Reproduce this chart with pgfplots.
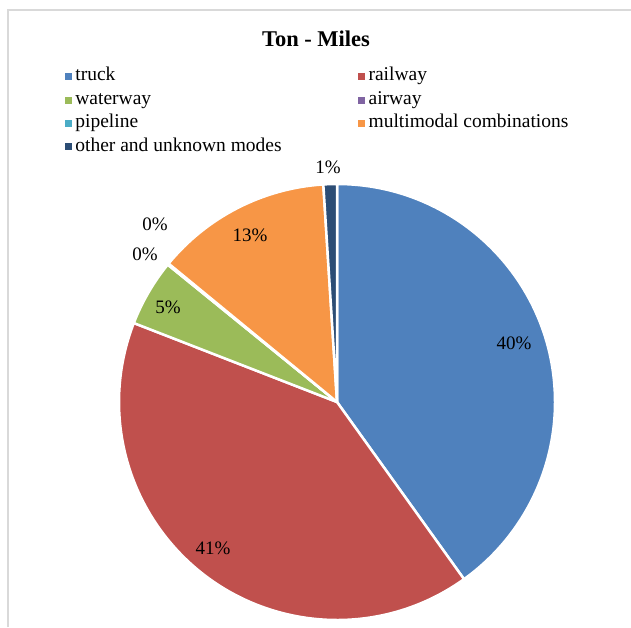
\documentclass[border=0pt]{standalone}
\usepackage{pgfplots}
\usepackage{pgfplotstable}
\pgfplotsset{compat=1.18}
\usepackage{fontspec}
\setmainfont{Liberation Serif}
\definecolor{pc0}{HTML}{4F81BD}
\definecolor{pc1}{HTML}{C0504D}
\definecolor{pc2}{HTML}{9BBB59}
\definecolor{pc3}{HTML}{8064A2}
\definecolor{pc4}{HTML}{4BACC6}
\definecolor{pc5}{HTML}{F79646}
\definecolor{pc6}{HTML}{2C4D75}
\definecolor{framegray}{HTML}{D9D9D9}
\newcommand\labfont{\fontsize{19}{22}\selectfont}
\newcommand\legfont{\fontsize{19.5}{22}\selectfont}
\newcommand\titlefont{\fontsize{22.5}{26}\selectfont\bfseries}
\newcommand\sq[1]{\addlegendimage{legend image code/.code={\fill[#1] (0pt,-3pt) rectangle (6pt,3pt); \path[draw=none,fill=none] (0pt,-1pt) rectangle (10pt,1pt);}}}
% value = share in percent, shown = printed label, labang/labr = label position (deg clockwise from top, radius)
\pgfplotstableread{
mode value shown labang labr
truck 40.1 40 71.6 186.6
railway 40.8 41 220.3 191.6
waterway 4.95 5 299.3 193.9
airway 0.05 0 307.6 242.4
pipeline 0.05 0 314.4 254.6
multimodal 13.05 13 332.5 188.3
other 1.0 1 357.8 235.2
}\piedata
\begin{document}
\begin{tikzpicture}
\def\cx{337}\def\cy{-402}\def\R{218}
\def\cum{0}
\pgfplotsforeachungrouped \i in {0,...,6}{%
  \pgfplotstablegetelem{\i}{value}\of\piedata
  \let\pv\pgfplotsretval
  \pgfmathsetmacro\st{90-3.6*\cum}%
  \pgfmathsetmacro\cum{\cum+\pv}%
  \pgfmathsetmacro\en{90-3.6*\cum}%
  \expandafter\xdef\csname pieS\i\endcsname{\st}%
  \expandafter\xdef\csname pieE\i\endcsname{\en}%
  \pgfplotstablegetelem{\i}{labang}\of\piedata
  \let\la\pgfplotsretval
  \pgfplotstablegetelem{\i}{labr}\of\piedata
  \let\lr\pgfplotsretval
  \pgfmathsetmacro\lx{\cx+\lr*sin(\la)}%
  \pgfmathsetmacro\ly{\cy+\lr*cos(\la)}%
  \expandafter\xdef\csname labX\i\endcsname{\lx}%
  \expandafter\xdef\csname labY\i\endcsname{\ly}%
  \pgfplotstablegetelem{\i}{shown}\of\piedata
  \expandafter\xdef\csname labT\i\endcsname{\pgfplotsretval}%
}
\begin{axis}[
  at={(0pt,0pt)}, anchor=south west,
  width=631pt, height=627pt, scale only axis,
  xmin=0, xmax=631, ymin=-627, ymax=0,
  hide axis, clip=false,
  title={Ton - Miles},
  title style={font=\titlefont, at={(0.5008,0.917)}, anchor=base, inner sep=0pt},
  legend columns=2,
  legend cell align=left,
  legend style={at={(0.1030,0.897)}, anchor=north west, draw=none, fill=none,
    inner sep=0pt, font=\legfont, row sep=0pt,
    nodes={inner sep=0pt, text height=16.2pt, text depth=7.2pt},
    /tikz/every odd column/.append style={column sep=0pt},
    /tikz/every even column/.append style={column sep=0pt}},
]
\draw[framegray, line width=2pt] (axis cs:8,-627) -- (axis cs:8,-10) -- (axis cs:631,-10);
\pgfplotsinvokeforeach{0,...,6}{%
  \edef\temp{\noexpand\fill[pc#1, draw=white, line width=2.5pt, line join=round]
    (axis cs:\cx,\cy) -- ++(\csname pieS#1\endcsname:\R pt)
    arc[start angle=\csname pieS#1\endcsname, end angle=\csname pieE#1\endcsname, radius=\R pt] -- cycle;}%
  \temp
}
\pgfplotsinvokeforeach{0,...,6}{%
  \edef\temp{\noexpand\node[font=\noexpand\labfont, anchor=center, inner sep=0pt]
    at (axis cs:\csname labX#1\endcsname,\csname labY#1\endcsname) {\csname labT#1\endcsname\noexpand\%};}%
  \temp
}
\sq{pc0}\addlegendentry{\makebox[283pt][l]{truck}}
\sq{pc1}\addlegendentry{railway}
\sq{pc2}\addlegendentry{\makebox[283pt][l]{waterway}}
\sq{pc3}\addlegendentry{airway}
\sq{pc4}\addlegendentry{\makebox[283pt][l]{pipeline}}
\sq{pc5}\addlegendentry{multimodal combinations}
\sq{pc6}\addlegendentry{\makebox[283pt][l]{other and unknown modes}}
\end{axis}
\pgfresetboundingbox
\useasboundingbox (0pt,0pt) rectangle (631pt,627pt);
\end{tikzpicture}
\end{document}
